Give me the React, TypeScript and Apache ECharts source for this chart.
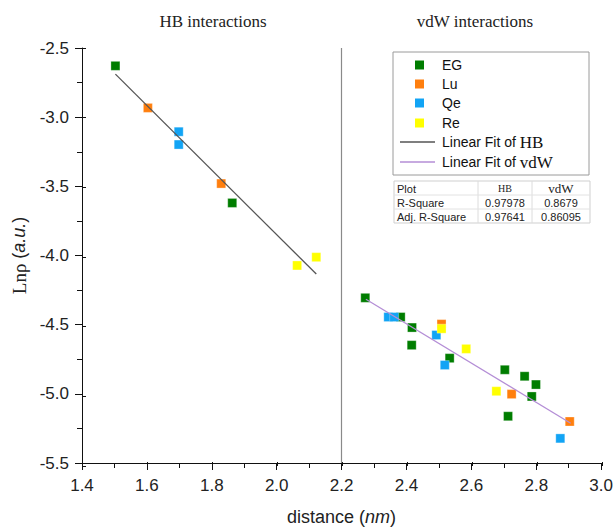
import React, { useEffect, useRef } from "react";
import * as echarts from "echarts";

// Data
const egHB = [[1.503, -2.629], [1.863, -3.62]];
const luHB = [[1.603, -2.933], [1.829, -3.48]];
const qeHB = [[1.698, -3.105], [1.698, -3.198]];
const reHB = [[2.063, -4.072], [2.122, -4.012]];
const egVdW = [
  [2.273, -4.306], [2.382, -4.445], [2.417, -4.521], [2.416, -4.648], [2.533, -4.742],
  [2.703, -4.826], [2.764, -4.873], [2.799, -4.933], [2.786, -5.019], [2.713, -5.162],
];
const luVdW = [[2.508, -4.496], [2.724, -5.002], [2.903, -5.2]];
const qeVdW = [[2.344, -4.445], [2.362, -4.445], [2.492, -4.575], [2.518, -4.792], [2.874, -5.322]];
const reVdW = [[2.508, -4.529], [2.584, -4.675], [2.677, -4.981]];
const fitHB = [[1.503, -2.689], [2.122, -4.134]];
const fitVdW = [[2.275, -4.316], [2.906, -5.213]];
const dividerX = 2.2;

const seriesNames = ["EG", "Lu", "Qe", "Re"];
const seriesColors = ["#007d00", "#ff7f0e", "#12a4f5", "#ffff00"];
const fitNames = ["HB", "vdW"];
const fitColors = ["#555555", "#b48ed6"];

const tableRows = [
  ["Plot", "HB", "vdW"],
  ["R-Square", "0.97978", "0.8679"],
  ["Adj. R-Square", "0.97641", "0.86095"],
];

const SANS = "'Liberation Sans', Arial, sans-serif";
const SERIF = "'Liberation Serif', 'Times New Roman', serif";

export default function App() {
  const ref = useRef<HTMLDivElement>(null);
  useEffect(() => {
    if (!ref.current) return;
    const chart = echarts.init(ref.current, undefined, { renderer: "svg" });
    const grid = { left: 82, right: 14, top: 48, bottom: 65 };
    const scatterData = [
      egHB.concat(egVdW),
      luHB.concat(luVdW),
      qeHB.concat(qeVdW),
      reHB.concat(reVdW),
    ];

    const axisCommon = {
      axisLine: { show: true, lineStyle: { color: "#111", width: 1 } },
      splitLine: { show: false },
    };

    const graphics: any[] = [];
    // Titles
    graphics.push({
      type: "text", z: 10,
      style: { text: "HB interactions", x: 213, y: 21, align: "center", verticalAlign: "middle", font: `17px ${SERIF}`, fill: "#222" },
    });
    graphics.push({
      type: "text", z: 10,
      style: { text: "vdW interactions", x: 475, y: 21, align: "center", verticalAlign: "middle", font: `17px ${SERIF}`, fill: "#222" },
    });
    // Legend box
    const lx = 393, ly = 52, lw = 196, lh = 123;
    graphics.push({ type: "rect", z: 20, shape: { x: lx, y: ly, width: lw, height: lh }, style: { fill: "#fff", stroke: "#9a9a9a", lineWidth: 1 } });
    const rowY = [65, 84, 103, 123, 142, 162];
    seriesNames.forEach((n, i) => {
      graphics.push({ type: "rect", z: 21, shape: { x: 415, y: rowY[i] - 4.5, width: 9, height: 9 }, style: { fill: seriesColors[i] } });
      graphics.push({ type: "text", z: 21, style: { text: n, x: 442, y: rowY[i], verticalAlign: "middle", font: `14px ${SANS}`, fill: "#111" } });
    });
    fitNames.forEach((n, i) => {
      const y = rowY[4 + i];
      graphics.push({ type: "line", z: 21, shape: { x1: 400, y1: y, x2: 435, y2: y }, style: { stroke: fitColors[i], lineWidth: 1.3 } });
      graphics.push({
        type: "text", z: 21,
        style: {
          text: `{s|Linear Fit of }{t|${n}}`, x: 442, y, verticalAlign: "middle",
          rich: { s: { font: `14px ${SANS}`, fill: "#111" }, t: { font: `17px ${SERIF}`, fill: "#111" } },
        },
      });
    });
    // Table
    const tx = 394, ty = 181, tw = 196, rh = 14;
    const colX = [394, 478, 532, 590];
    graphics.push({ type: "rect", z: 20, shape: { x: tx, y: ty, width: tw, height: rh * 3 }, style: { fill: "#fff", stroke: "#cfcfcf", lineWidth: 1 } });
    [1, 2].forEach((c) => {
      graphics.push({ type: "line", z: 21, shape: { x1: colX[c], y1: ty, x2: colX[c], y2: ty + rh * 3 }, style: { stroke: "#dcdcdc", lineWidth: 1 } });
    });
    [1, 2].forEach((r) => {
      graphics.push({ type: "line", z: 21, shape: { x1: tx, y1: ty + rh * r, x2: tx + tw, y2: ty + rh * r }, style: { stroke: "#e2e2e2", lineWidth: 1 } });
    });
    tableRows.forEach((row, r) => {
      row.forEach((cell, c) => {
        const y = ty + rh * r + rh / 2 + 0.5;
        const isHeaderSerif = r === 0 && c > 0;
        graphics.push({
          type: "text", z: 22,
          style: {
            text: cell,
            x: c === 0 ? colX[0] + 3 : (colX[c] + colX[c + 1]) / 2,
            y, align: c === 0 ? "left" : "center", verticalAlign: "middle",
            font: isHeaderSerif ? (c === 1 ? `10px ${SERIF}` : `13px ${SERIF}`) : `11px ${SANS}`,
            fill: "#222",
          },
        });
      });
    });

    const option: any = {
      animation: false,
      backgroundColor: "#fff",
      grid: [grid, { ...grid }],
      xAxis: [
        {
          ...axisCommon, type: "value", gridIndex: 0, min: 1.4, max: 3.0, interval: 0.2,
          axisTick: { show: true, inside: false, length: 7, lineStyle: { color: "#111" } },
          minorTick: { show: true, splitNumber: 2, length: 5, lineStyle: { color: "#111" } },
          axisLabel: { fontSize: 17, fontFamily: SANS, color: "#222", margin: 14, formatter: (v: number) => v.toFixed(1) },
          name: "{a|distance (}{b|nm}{a|)}", nameLocation: "middle", nameGap: 45,
          nameTextStyle: { rich: { a: { fontSize: 18, fontFamily: SANS, color: "#222" }, b: { fontSize: 18, fontFamily: SANS, fontStyle: "italic", color: "#222" } } },
        },
        {
          type: "value", gridIndex: 1, min: 1.4, max: 3.0, interval: 0.2,
          axisLine: { show: false }, splitLine: { show: false }, axisLabel: { show: false },
          axisTick: { show: true, inside: true, length: 4, lineStyle: { color: "#111" } },
        },
      ],
      yAxis: [
        {
          ...axisCommon, type: "value", gridIndex: 0, min: -5.5, max: -2.5, interval: 0.5,
          axisTick: { show: true, inside: false, length: 7, lineStyle: { color: "#111" } },
          minorTick: { show: true, splitNumber: 2, length: 5, lineStyle: { color: "#111" } },
          axisLabel: { fontSize: 17, fontFamily: SANS, color: "#222", margin: 13, formatter: (v: number) => v.toFixed(1) },
          name: "{a|Lnρ }{b|(}{c|a.u.}{b|)}", nameLocation: "middle", nameGap: 46,
          nameTextStyle: {
            rich: {
              a: { fontSize: 19, fontFamily: SERIF, color: "#222" },
              b: { fontSize: 18, fontFamily: SANS, color: "#222" },
              c: { fontSize: 18, fontFamily: SANS, fontStyle: "italic", color: "#222" },
            },
          },
        },
        {
          type: "value", gridIndex: 1, min: -5.5, max: -2.5, interval: 0.5,
          axisLine: { show: false }, splitLine: { show: false }, axisLabel: { show: false },
          axisTick: { show: true, inside: true, length: 4, lineStyle: { color: "#111" } },
        },
      ],
      series: [
        ...seriesNames.map((n, i) => ({
          name: n, type: "scatter", xAxisIndex: 0, yAxisIndex: 0, symbol: "rect", symbolSize: 9,
          data: scatterData[i],
          itemStyle: { color: seriesColors[i], borderColor: "rgba(255,255,255,0.5)", borderWidth: 0.6, opacity: 1 },
          z: 3,
        })),
        {
          name: "Linear Fit of HB", type: "line", xAxisIndex: 0, yAxisIndex: 0, data: fitHB, showSymbol: false, symbol: "none",
          lineStyle: { color: fitColors[0], width: 1.3 }, z: 4,
          markLine: {
            silent: true, symbol: "none", label: { show: false },
            lineStyle: { color: "#8a8a8a", width: 1.2, type: "solid" },
            data: [{ xAxis: dividerX }],
          },
        },
        {
          name: "Linear Fit of vdW", type: "line", xAxisIndex: 0, yAxisIndex: 0, data: fitVdW, showSymbol: false, symbol: "none",
          lineStyle: { color: fitColors[1], width: 1.3 }, z: 4,
        },
      ],
      graphic: graphics,
    };
    chart.setOption(option);
    return () => chart.dispose();
  }, []);
  return <div ref={ref} style={{ position: "fixed", left: 0, top: 0, width: 616, height: 531 }} />;
}
